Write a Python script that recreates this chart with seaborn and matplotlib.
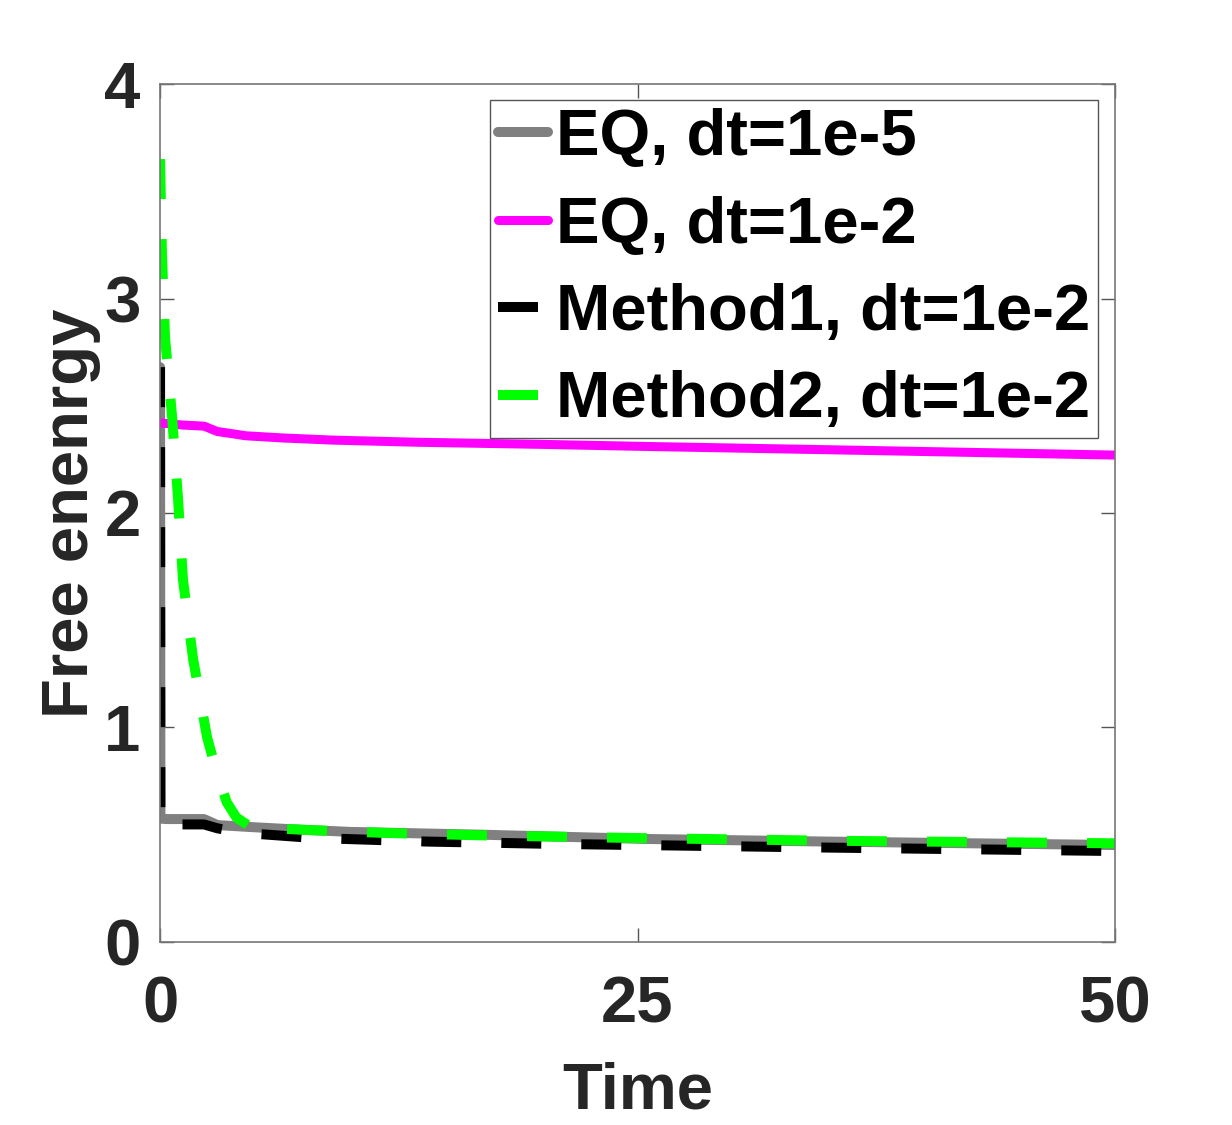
import numpy as np
import pandas as pd
import matplotlib
matplotlib.use('Agg')
import matplotlib.pyplot as plt
import seaborn as sns

# valores
t_eq_fino = [0, 0.02, 0.35, 2.3, 3.0, 4.7, 7, 10, 16.9, 25.6, 35, 50]
e_eq_fino = [2.68, 0.575, 0.573, 0.573, 0.545, 0.536, 0.525, 0.513, 0.50, 0.48, 0.468, 0.452]

t_eq_grosso = [0, 1.2, 2.3, 3.0, 4.5, 6.4, 9, 13.4, 20, 25.6, 35, 50]
e_eq_grosso = [2.42, 2.41, 2.405, 2.38, 2.36, 2.35, 2.34, 2.33, 2.32, 2.31, 2.295, 2.27]

t_metodo1 = [0, 0.02, 0.8, 2.3, 3.0, 3.8, 4.9, 8, 14, 20.7, 25, 35, 50]
e_metodo1 = [2.68, 0.545, 0.548, 0.548, 0.53, 0.517, 0.505, 0.485, 0.468, 0.457, 0.452, 0.44, 0.424]

t_metodo2 = [0, 0.1, 0.26, 0.63, 0.94, 1.2, 1.73, 2.46, 3.0, 3.5, 4.0, 4.6, 5.5, 7.7, 11.9, 16.9, 24.6, 35, 50]
e_metodo2 = [3.65, 3.21, 2.82, 2.45, 2.07, 1.69, 1.32, 0.955, 0.78, 0.65, 0.58, 0.545, 0.532, 0.522, 0.508, 0.497, 0.485, 0.472, 0.46]

rotulos = ['EQ, dt=1e-5', 'EQ, dt=1e-2', 'Method1, dt=1e-2', 'Method2, dt=1e-2']
cores = ['#808080', '#ff00ff', '#000000', '#00ff00']
larguras = [7.2, 6.5, 7.2, 7.2]

sns.set_theme(style='white')
plt.rcParams['font.family'] = ['Liberation Sans', 'DejaVu Sans']
plt.rcParams['font.weight'] = 'bold'

fig = plt.figure(figsize=(12.32, 11.25), dpi=100)
ax = fig.add_axes([0.1299, 0.1627, 0.7752, 0.7626])

series = [(t_eq_fino, e_eq_fino), (t_eq_grosso, e_eq_grosso),
          (t_metodo1, e_metodo1), (t_metodo2, e_metodo2)]
for (t, e), rot, cor, lw in zip(series, rotulos, cores, larguras):
    df = pd.DataFrame({'Time': t, 'Energy': e})
    sns.lineplot(data=df, x='Time', y='Energy', ax=ax, color=cor, lw=lw,
                 label=rot, estimator=None, sort=False)

linhas = ax.get_lines()
linhas[2].set_dashes((4, 4))
linhas[3].set_dashes((4, 4))

ax.set_xlim(0, 50)
ax.set_ylim(0, 4)
ax.set_xticks([0, 25, 50])
ax.set_yticks([0, 1, 2, 3, 4])
ax.tick_params(direction='in', length=10, width=1, color='#555555',
               labelsize=47, labelcolor='#262626', top=True, right=True,
               bottom=True, left=True)
ax.tick_params(axis='x', pad=24)
ax.tick_params(axis='y', pad=14)
for sp in ax.spines.values():
    sp.set_color('#777777')
    sp.set_linewidth(1.2)

ax.set_xlabel('Time', fontsize=47, fontweight='bold', color='#262626', labelpad=19)
ax.set_ylabel('Free enenrgy', fontsize=47, fontweight='bold', color='#262626', labelpad=2)

leg = ax.legend(loc='upper right', bbox_to_anchor=(0.982, 0.981), fontsize=47,
                frameon=True, fancybox=False, edgecolor='#555555', framealpha=1,
                handlelength=0.77, handletextpad=0.12, borderpad=0.12,
                labelspacing=0.42, borderaxespad=0)
leg.get_frame().set_linewidth(1.0)
for txt in leg.get_texts():
    txt.set_color('black')
    txt.set_fontweight('bold')

fig.savefig('out.png', dpi=100, facecolor='white')
